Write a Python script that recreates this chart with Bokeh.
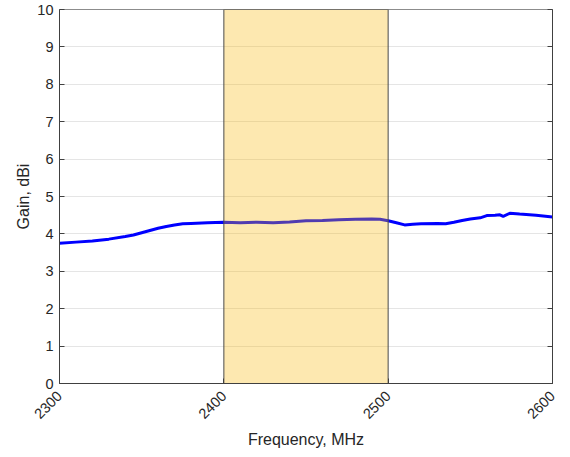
import math
from bokeh.plotting import figure
from bokeh.models import LinearAxis, FixedTicker, Range1d
from bokeh.embed import file_html
from bokeh.resources import INLINE

freq = [2300, 2310, 2320, 2330, 2340, 2345, 2350, 2355, 2360, 2365, 2370, 2375, 2380,
        2390, 2400, 2410, 2420, 2430, 2440, 2450, 2460, 2470, 2480, 2490, 2495, 2500,
        2505, 2510, 2515, 2520, 2530, 2535, 2540, 2545, 2550, 2556, 2560, 2565, 2568,
        2570, 2574, 2580, 2590, 2600]
gain = [3.75, 3.78, 3.81, 3.86, 3.93, 3.97, 4.03, 4.09, 4.15, 4.20, 4.24, 4.27, 4.28,
        4.30, 4.31, 4.30, 4.31, 4.30, 4.32, 4.35, 4.36, 4.38, 4.39, 4.40, 4.39, 4.35,
        4.30, 4.24, 4.26, 4.27, 4.28, 4.27, 4.31, 4.36, 4.40, 4.43, 4.49, 4.50, 4.51,
        4.47, 4.55, 4.53, 4.50, 4.45]

band_start = 2400
band_end = 2500
x_ticks = [2300, 2400, 2500, 2600]
y_ticks = list(range(0, 11))

FONT = "Liberation Sans"
TXT = "#262626"

p = figure(width=570, height=457, output_backend="svg", toolbar_location=None,
           x_range=Range1d(2300, 2600), y_range=Range1d(0, 10),
           min_border_left=59, min_border_right=18, min_border_top=9, min_border_bottom=74)

p.background_fill_color = "white"
p.outline_line_color = "#8c8c8c"

# curve
p.line(freq, gain, line_color="#0000ff", line_width=3)

# band (translucent, drawn over the curve)
p.quad(left=[band_start], right=[band_end], bottom=[0], top=[10],
       fill_color=(250, 185, 10), fill_alpha=0.32,
       line_color="#4d4d4d", line_width=1.2, line_alpha=0.85)

# axes styling
for ax in (p.xaxis[0], p.yaxis[0]):
    ax.axis_line_color = "#404040"
    ax.major_tick_line_color = "#404040"
    ax.major_tick_in = 5
    ax.major_tick_out = 0
    ax.minor_tick_line_color = None
    ax.major_label_text_font = FONT
    ax.major_label_text_font_size = "14.5px"
    ax.major_label_text_color = TXT
    ax.axis_label_text_font = FONT
    ax.axis_label_text_font_size = "16px"
    ax.axis_label_text_font_style = "normal"
    ax.axis_label_text_color = TXT

p.xaxis.ticker = FixedTicker(ticks=x_ticks)
p.yaxis.ticker = FixedTicker(ticks=y_ticks)
p.xaxis.axis_label = "Frequency, MHz"
p.yaxis.axis_label = "Gain, dBi"
p.xaxis.major_label_orientation = math.pi / 4
p.xaxis.major_label_standoff = 10
p.yaxis.major_label_standoff = 6
p.yaxis.axis_label_standoff = 2
p.xaxis.axis_label_standoff = 5

# right axis with inner ticks, no visible labels
ra = LinearAxis(ticker=FixedTicker(ticks=y_ticks))
ra.axis_line_color = "#404040"
ra.major_tick_line_color = "#404040"
ra.major_tick_in = 5
ra.major_tick_out = 0
ra.minor_tick_line_color = None
ra.major_label_text_color = None
ra.major_label_standoff = 0
p.add_layout(ra, "right")

p.xgrid.grid_line_color = None
p.ygrid.grid_line_color = "#e5e5e5"
p.ygrid.grid_line_width = 1

open("out.html", "w").write(file_html(p, INLINE))
